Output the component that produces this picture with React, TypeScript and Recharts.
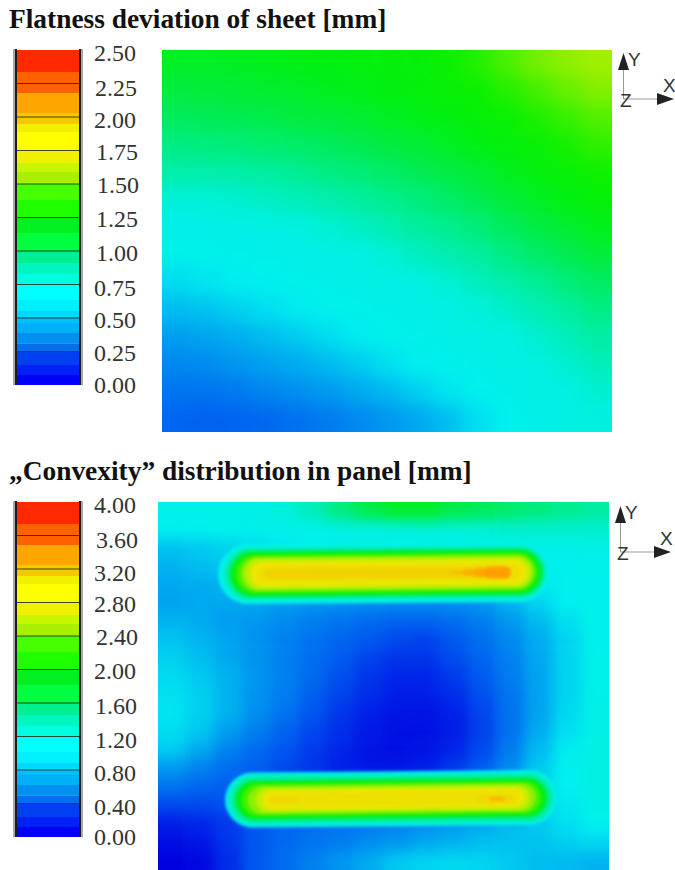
import React from 'react';
import { BarChart, Bar, XAxis, YAxis, ReferenceLine, ScatterChart, Scatter, LineChart, Line } from 'recharts';

// Colour scale bands, bottom to top, as percent of the scale range
const bandEdges = [0,3,6,9.9,12.5,15.5,18.5,20,22.1,25.4,29.9,33.1,36.4,39.7,45.4,49.9,55.2,60,63.6,66.3,70.1,75.5,77.9,81.2,87.2,93.4,100];
const bandColors = ['#0000f8','#0020f8','#0040f0','#0070f0','#0090f0','#00b0f8','#00c0f8','#00d8ff','#00f0ff','#00ffff','#00ffe0','#00f5c0','#00f090','#00ff40','#00f020','#20ff00','#48ff00','#a8f000','#c8f500','#f0f000','#ffff00','#f0f000','#f5c800','#ffa500','#ff6000','#ff2800'];

const sheetTicks = [0,0.25,0.5,0.75,1,1.25,1.5,1.75,2,2.25,2.5];
const sheetTickDy = [0,1,2,3,2,1,0.5,1,3,4,3];
const sheetTickX = [94,94,94,94,96,96,97,96,94,95,94];
const panelTicks = [0,0.4,0.8,1.2,1.6,2,2.4,2.8,3.2,3.6,4];
const panelTickDy = [0,3,3,3,2.5,1,1,1.5,4,4,3];
const panelTickX = [94,94,94,95,95,94,96,94,94,96,94];

// Flatness deviation of sheet, mm, top row first
const sheetRows = [
[1.22,1.22,1.23,1.24,1.25,1.26,1.27,1.28,1.29,1.32,1.36,1.42,1.48,1.53,1.58],
[1.17,1.18,1.19,1.20,1.21,1.23,1.24,1.26,1.28,1.30,1.32,1.36,1.41,1.46,1.50],
[1.12,1.13,1.14,1.15,1.17,1.18,1.20,1.22,1.24,1.26,1.29,1.31,1.35,1.39,1.43],
[1.05,1.06,1.07,1.09,1.10,1.12,1.14,1.17,1.19,1.22,1.25,1.28,1.30,1.34,1.38],
[.97,.97,.98,1.00,1.02,1.05,1.07,1.10,1.13,1.16,1.19,1.23,1.27,1.30,1.33],
[.84,.85,.87,.90,.93,.96,1.00,1.03,1.06,1.10,1.14,1.18,1.22,1.26,1.29],
[.78,.78,.79,.80,.82,.86,.90,.95,1.00,1.03,1.07,1.12,1.16,1.20,1.24],
[.75,.75,.76,.77,.78,.79,.81,.85,.91,.96,1.00,1.05,1.10,1.14,1.18],
[.65,.68,.71,.73,.75,.77,.78,.79,.81,.86,.92,.97,1.02,1.07,1.11],
[.56,.58,.62,.66,.70,.74,.76,.77,.79,.80,.84,.89,.95,1.00,1.05],
[.47,.49,.52,.56,.60,.65,.70,.74,.76,.78,.80,.82,.87,.93,.99],
[.41,.42,.45,.48,.51,.55,.60,.66,.71,.75,.77,.79,.82,.87,.93],
[.35,.35,.37,.40,.43,.46,.50,.55,.61,.68,.73,.77,.79,.82,.87],
[.30,.29,.30,.31,.34,.37,.41,.45,.50,.56,.66,.74,.78,.80,.83],
];

// Convexity field of the panel around the ridges, mm, top row first
const panelRows = [
[1.2,1.2,1.2,1.25,1.35,1.5,1.7,1.85,1.95,1.95,1.85,1.8,1.75,1.7,1.65,1.6],
[1.15,1.17,1.2,1.2,1.2,1.22,1.27,1.3,1.33,1.35,1.35,1.38,1.4,1.4,1.4,1.4],
[.92,.95,1.0,1.05,1.1,1.15,1.18,1.2,1.2,1.2,1.2,1.2,1.22,1.22,1.22,1.25],
[.85,.9,.93,.97,1.0,1.0,1.0,1.0,1.0,1.0,1.05,1.05,1.1,1.15,1.2,1.2],
[.8,.82,.85,.88,.88,.88,.88,.88,.88,.88,.9,.92,1.0,1.1,1.18,1.2],
[.78,.8,.8,.78,.75,.72,.7,.68,.66,.66,.68,.72,.85,1.0,1.15,1.2],
[.85,.82,.75,.72,.66,.6,.55,.5,.47,.47,.52,.6,.72,.88,1.05,1.2],
[.93,.86,.78,.7,.62,.55,.48,.42,.35,.33,.42,.53,.66,.82,1.0,1.2],
[.98,.9,.8,.7,.62,.52,.43,.33,.28,.28,.37,.48,.62,.8,1.0,1.2],
[1.03,.95,.84,.72,.62,.5,.38,.28,.22,.22,.3,.43,.6,.78,1.0,1.2],
[1.06,.98,.84,.7,.6,.45,.33,.24,.18,.18,.25,.38,.56,.78,1.0,1.22],
[1.08,.98,.84,.68,.55,.4,.28,.2,.13,.12,.2,.34,.55,.78,1.02,1.25],
[1.04,.93,.75,.6,.47,.34,.25,.15,.1,.1,.18,.33,.55,.82,1.06,1.25],
[.96,.8,.62,.5,.4,.3,.22,.12,.1,.12,.22,.36,.6,.88,1.12,1.28],
[.72,.62,.52,.45,.35,.28,.2,.14,.14,.2,.3,.45,.68,.96,1.16,1.3],
[.55,.48,.45,.42,.4,.4,.4,.4,.45,.5,.55,.65,.8,1.0,1.15,1.28],
[.35,.35,.38,.42,.45,.48,.5,.52,.55,.6,.65,.75,.85,1.0,1.1,1.25],
[.18,.22,.3,.4,.48,.52,.55,.58,.62,.68,.72,.8,.88,.95,1.05,1.15],
[.08,.14,.28,.42,.5,.56,.6,.68,.72,.8,.85,.9,.92,.92,.98,1.02],
[0,.05,.25,.42,.52,.62,.72,.82,.95,1.0,1.02,1.0,.95,.9,.88,.85],
];

// Contour levels of the two ridges: value, half-width, start and end along the ridge, ridge height at start and end
const topRidgeValue = [1.25,1.4,1.6,1.85,2.05,2.25,2.45,2.65,2.85,2.95,3.08,3.25,3.32,3.38,3.42];
const topRidgeHalf = [30,27,25,23,21,19,17,15,12,8,5,1.5,3,4.5,6];
const topRidgeStart = [248,250,251,252,253,255,258,260,263,266,270,452,465,478,490];
const topRidgeEnd = [520,520,520,520,519,518,517,516,515,513,505,505,505,505,505];
const topRidgeY0 = [574,574,574,574,574,574,574,574,574,574,574,572.5,572.5,572.5,572.5];
const topRidgeY1 = [572,572,572,572,572,572,572,572,572,572,572,572.5,572.5,572.5,572.5];

const lowRidgeValue = [1.25,1.4,1.6,1.85,2.05,2.25,2.45,2.65,2.85,2.92,3.02,3.02,3.25];
const lowRidgeHalf = [27.5,25.5,23,20,18,16,14,12,9.5,7,3,4,2.5];
const lowRidgeStart = [252.5,253,254,254.5,255,258,262,268,272,275,272,480,492];
const lowRidgeEnd = [529.5,529.5,529,528,527,525,522,518,515,512,295,510,502];
const lowRidgeY0 = [800,800,800,800,800,800,800,800,800,800,800,799,799];
const lowRidgeY1 = [797.5,797.5,797.5,797.5,797.5,797.5,797.5,797.5,797.5,797.5,800,799,799];

// Colour ramp for the contour fields: [fraction of range, r, g, b]
const ramp: number[][] = [
  [0,0,0,224],[.05,0,32,232],[.1,0,85,240],[.15,0,125,240],[.2,0,168,240],[.25,0,212,240],[.285,0,240,240],[.33,0,240,226],
  [.4,0,238,160],[.45,0,236,90],[.5,0,240,20],[.53,10,240,0],[.6,128,240,0],[.7,236,236,0],[.775,240,208,0],[.85,255,165,0],[.9,255,96,0],[1,255,40,0],
];
function rampColor(f: number) {
  const v = Math.max(0, Math.min(1, f));
  let k = 0;
  while (k < ramp.length - 2 && v > ramp[k + 1][0]) k++;
  const a = ramp[k], b = ramp[k + 1];
  const t = (v - a[0]) / (b[0] - a[0]);
  const c = [1, 2, 3].map((n) => Math.round(a[n] + (b[n] - a[n]) * t));
  return `rgb(${c[0]},${c[1]},${c[2]})`;
}

const SERIF = '"Liberation Serif", serif';

function ColorBar({ top, max, ticks, tickDy, tickX }: any) {
  const row: any = { name: 'scale' };
  bandColors.forEach((_, i) => { row['b' + i] = ((bandEdges[i + 1] - bandEdges[i]) * max) / 100; });
  const h = 335;
  const renderTick = (p: any) => {
    const i = ticks.indexOf(p.payload.value);
    return (
      <text x={tickX[i]} y={p.y + tickDy[i] + 8} fontFamily={SERIF} fontSize={24} fill="#333" textAnchor="start">
        {Number(p.payload.value).toFixed(2)}
      </text>
    );
  };
  const strip = (left: number, width: number, background: string, z: number) => (
    <div style={{ position: 'absolute', left, top: top - 1, width, height: h + 1, background, zIndex: z }} />
  );
  return (
    <>
      {strip(13, 2, '#a8a8a8', 2)}
      {strip(15, 2.3, '#1c1c1c', 2)}
      {strip(78.7, 2.3, '#1c1c1c', 2)}
      {strip(81, 2, '#a8a8a8', 2)}
      <div style={{ position: 'absolute', left: 0, top: top - 12 }}>
        <BarChart width={160} height={h + 24} data={[row]} margin={{ top: 12, bottom: 12, left: 17, right: 0 }} barCategoryGap={0} barGap={0}>
          <XAxis dataKey="name" hide />
          <YAxis orientation="right" type="number" domain={[0, max]} ticks={ticks} interval={0} width={81} axisLine={false} tickLine={false} tick={renderTick} />
          {bandColors.map((c, i) => (
            <Bar key={i} dataKey={'b' + i} stackId="scale" fill={c} isAnimationActive={false} />
          ))}
          {ticks.slice(1, -1).map((t: number) => (
            <ReferenceLine key={t} y={t} stroke="#1f2a1f" strokeOpacity={0.85} strokeWidth={1} />
          ))}
        </BarChart>
      </div>
    </>
  );
}

const PAD = 40;

function ContourField({ width, height, rows, max, blur }: any) {
  const nRows = rows.length;
  const nCols = rows[0].length;
  const cw = width / nCols;
  const ch = height / nRows;
  const data = rows.flatMap((r: number[], j: number) =>
    r.map((v, i) => ({ col: i + 0.5, row: j + 0.5, value: v, i, j })),
  );
  const cell = (p: any) => {
    const { cx, cy, payload } = p;
    const extL = payload.i === 0 ? PAD : 0;
    const extR = payload.i === nCols - 1 ? PAD : 0;
    const extT = payload.j === 0 ? PAD : 0;
    const extB = payload.j === nRows - 1 ? PAD : 0;
    return (
      <rect
        x={cx - cw / 2 - extL}
        y={cy - ch / 2 - extT}
        width={cw + extL + extR + 0.6}
        height={ch + extT + extB + 0.6}
        fill={rampColor(payload.value / max)}
      />
    );
  };
  return (
    <div style={{ position: 'absolute', left: -PAD, top: -PAD, filter: `blur(${blur}px)` }}>
      <ScatterChart width={width + PAD * 2} height={height + PAD * 2} margin={{ top: PAD, right: PAD, bottom: PAD, left: PAD }}>
        <XAxis type="number" dataKey="col" domain={[0, nCols]} hide />
        <YAxis type="number" dataKey="row" domain={[0, nRows]} reversed hide width={0} />
        <Scatter data={data} shape={cell} isAnimationActive={false} />
      </ScatterChart>
    </div>
  );
}

function ridgeLines(values: number[], half: number[], start: number[], end: number[], y0: number[], y1: number[], max: number, prefix: string) {
  return values.map((v, i) => (
    <Line
      key={prefix + i}
      data={[{ x: start[i], y: y0[i] }, { x: end[i], y: y1[i] }]}
      dataKey="y"
      type="linear"
      dot={false}
      legendType="none"
      stroke={rampColor(v / max)}
      strokeWidth={half[i] * 2}
      strokeLinecap="round"
      isAnimationActive={false}
    />
  ));
}

function RidgeContours({ left, top, width, height, max }: any) {
  return (
    <div style={{ position: 'absolute', left: 0, top: 0, filter: 'blur(1.4px)' }}>
      <LineChart width={width} height={height} margin={{ top: 0, right: 0, bottom: 0, left: 0 }}>
        <XAxis type="number" dataKey="x" domain={[left, left + width]} allowDuplicatedCategory={false} hide />
        <YAxis type="number" dataKey="y" domain={[top, top + height]} reversed hide width={0} />
        {ridgeLines(topRidgeValue, topRidgeHalf, topRidgeStart, topRidgeEnd, topRidgeY0, topRidgeY1, max, 't')}
        {ridgeLines(lowRidgeValue, lowRidgeHalf, lowRidgeStart, lowRidgeEnd, lowRidgeY0, lowRidgeY1, max, 'l')}
      </LineChart>
    </div>
  );
}

function Triad({ dx, dy }: { dx: number; dy: number }) {
  const font = { fontFamily: '"Liberation Sans", sans-serif', fill: '#333' };
  return (
    <svg width={675} height={870} style={{ position: 'absolute', left: 0, top: 0, pointerEvents: 'none' }}>
      <g transform={`translate(${dx},${dy})`}>
        <line x1={623.5} y1={66} x2={623.5} y2={99} stroke="#999" strokeWidth={1} />
        <line x1={623.5} y1={99} x2={660} y2={99} stroke="#999" strokeWidth={1} />
        <polygon points="623.5,53 618,70 629,70" fill="#222" />
        <polygon points="674,99 657,93 657,105" fill="#222" />
        <text x={628} y={66} fontSize={19} {...font}>Y</text>
        <text x={663} y={92} fontSize={19} {...font}>X</text>
        <text x={620} y={107} fontSize={19} {...font}>Z</text>
      </g>
    </svg>
  );
}

const titleStyle: React.CSSProperties = {
  position: 'absolute', left: 9, margin: 0, fontFamily: SERIF, fontWeight: 700, fontSize: 27.4, lineHeight: '30px', color: '#111', whiteSpace: 'nowrap',
};

const panelBox = (left: number, top: number, width: number, height: number): React.CSSProperties => ({
  position: 'absolute', left, top, width, height, overflow: 'hidden',
});

export default function App() {
  return (
    <div style={{ position: 'absolute', left: 0, top: 0, width: 675, height: 870, background: '#fff', overflow: 'hidden' }}>
      <div style={{ ...titleStyle, top: 4 }}>Flatness deviation of sheet [mm]</div>
      <ColorBar top={50} max={2.5} ticks={sheetTicks} tickDy={sheetTickDy} tickX={sheetTickX} />
      <div style={panelBox(162, 50, 450, 382)}>
        <ContourField width={450} height={382} rows={sheetRows} max={2.5} blur={9} />
      </div>
      <Triad dx={0} dy={0} />

      <div style={{ ...titleStyle, top: 456 }}>„Convexity” distribution in panel [mm]</div>
      <ColorBar top={502} max={4} ticks={panelTicks} tickDy={panelTickDy} tickX={panelTickX} />
      <div style={panelBox(158, 502, 451, 368)}>
        <ContourField width={451} height={368} rows={panelRows} max={4} blur={7} />
        <RidgeContours left={158} top={502} width={451} height={368} max={4} />
      </div>
      <Triad dx={-3} dy={453} />
    </div>
  );
}
